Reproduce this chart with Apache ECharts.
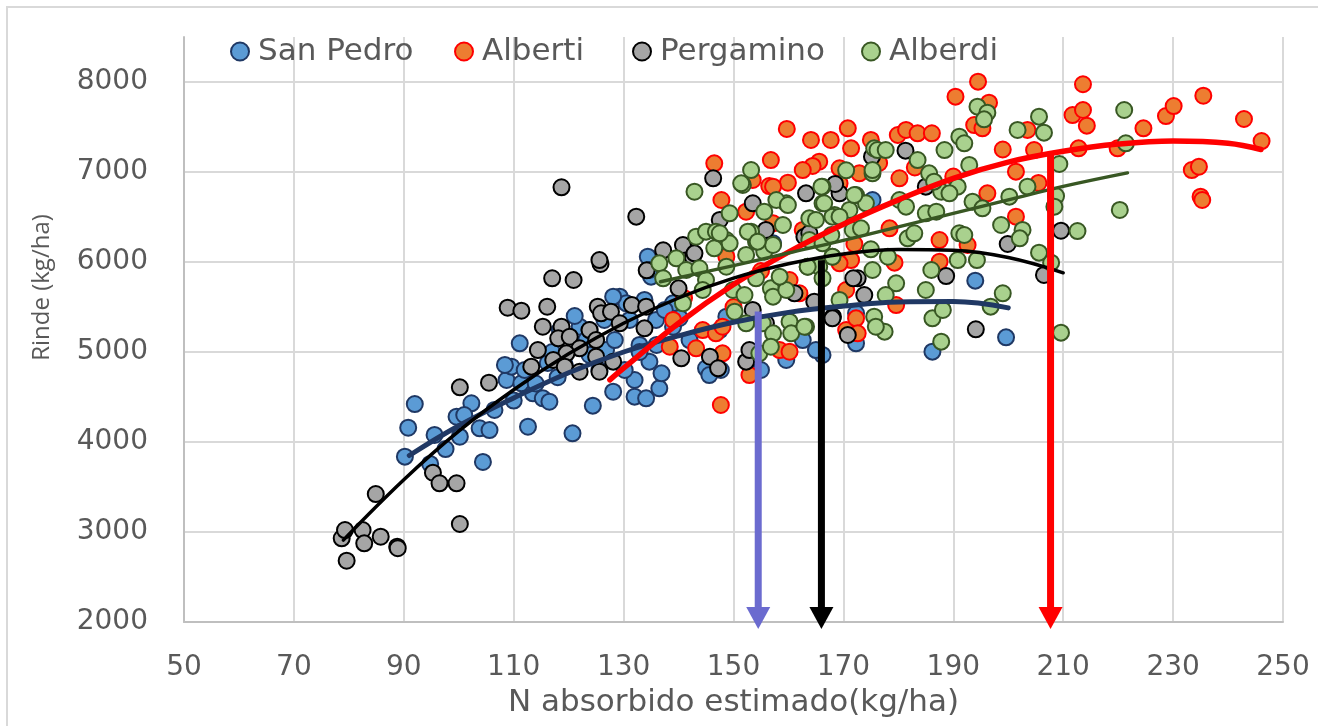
<!DOCTYPE html>
<html>
<head>
<meta charset="utf-8">
<script src="https://cdn.jsdelivr.net/npm/echarts@6/dist/echarts.min.js"></script>
<style>
html, body { margin: 0; padding: 0; background: #fff; }
#chart { width: 1318px; height: 726px; }
</style>
</head>
<body>
<div id="chart"></div>
<script>
// N absorbido (kg/ha) vs rinde (kg/ha), one array per site
var sanPedro = [
  [90.2,3837],[90.8,4159],[92,4422],[94.8,3756],[95.6,4078],[97.6,3922],[99.6,4281],[100.2,4059],
  [102.3,4430],[103.8,4152],[104.4,3778],[105.6,4133],[106.5,4356],[108.7,4689],[109.6,4837],[111.1,5096],
  [111.4,4652],[112.6,4170],[113.5,4541],[115.3,4485],[116.5,4448],[120.7,4096],[124.4,4404],[128.1,4559],
  [132,4689],[132,4504],[134.1,4485],[136.5,4596],[136.9,4763],[134.7,4893],[134.4,6059],[135,5837],
  [129.3,5615],[130.5,5541],[128.1,5615],[135.9,5356],[139,5541],[139,5281],[122,5281],[123.2,5133],
  [132.9,5078],[126.8,5022],[145,4819],[145.6,4744],[147.7,4800],[152.9,4856],[155,4800],[159.6,4911],
  [166.2,4967],[147.5,5244],[148.7,5393],[157.2,6207],[172.3,5430],[194,5793],[199.6,5163],[186.2,5004],
  [165,5022],[172.3,5096],[162.6,5133],[175.3,6689],[118.4,5244],[121.1,5400],[123.8,5244],[126.5,5356],
  [128.4,5133],[131.1,5356],[133.8,5578],[136,5078],[125.6,4800],[130.2,4800],[132.9,5000],[123.8,4967],
  [119.3,4856],[116.2,4878],[112,4800],[108.4,4856],[134.7,5911],[137.5,5467],[140.2,5378],[142,5133],
  [117,5000],[114,4650],[118,4720],[101,4300],[110,4460]
];
var alberti = [
  [159.7,7478],[164.1,7356],[167.7,7356],[170.8,7485],[171.4,7263],[175,7356],[156.8,7133],[165.6,7115],
  [164.4,7067],[162.6,7022],[146.5,7096],[147.8,6689],[156.5,6844],[159.9,6881],[153.5,6911],[152.3,6559],
  [148.7,6059],[139,5356],[138.4,5059],[144.4,5244],[143.2,5041],[146.8,5207],[148,5281],[148,4985],
  [152.9,4744],[147.7,4411],[157.2,6430],[160.2,5800],[162,5652],[157.2,6837],[158.4,5022],[160.2,5003],
  [170.5,5244],[171.4,6022],[169.3,6874],[169.3,7041],[172.9,6985],[179.9,7411],[181.4,7467],[183.5,7430],
  [186.1,7430],[190.4,7837],[194.5,8004],[196.5,7770],[193.8,7522],[195.3,7485],[201.4,7004],[203.5,7467],
  [204.7,7244],[211.7,7633],[213.6,7975],[213.6,7689],[214.3,7515],[212.8,7263],[219.9,7263],[224.6,7485],
  [228.7,7622],[230.1,7733],[235.5,7848],[242.9,7589],[246.1,7344],[233.4,7022],[234.7,7059],[235,6726],
  [235.3,6689],[196.2,6763],[187.5,6244],[192.6,6189],[178.4,6374],[180.2,6930],[179.3,5993],[187.5,6004],
  [172.3,5374],[172.6,5207],[179.6,5522],[170.5,5689],[169.3,5985],[162.6,6356],[201.4,6504],[205.5,6878],
  [172,6200],[176.5,7100],[183,7050],[190,6950],[199,7250],[141,5600],[150,5500],[155,5900]
];
var pergamino = [
  [78.7,2930],[79.3,3022],[79.6,2681],[82.5,3022],[82.8,2874],[85.8,2948],[84.9,3422],[88.8,2837],
  [88.9,2820],[95.3,3659],[96.5,3541],[99.6,3541],[100.2,3089],[100.2,4607],[105.5,4659],[118.7,6830],
  [132.3,6504],[125.8,5978],[117,5819],[120.9,5800],[108.9,5492],[111.4,5459],[116.1,5503],[125.3,5503],
  [125.9,5430],[127.7,5448],[131.5,5522],[134.1,5503],[115.3,5281],[118.7,5281],[123.8,5244],[129.3,5319],
  [133.8,5263],[118.1,5152],[120.2,5170],[122,5041],[125,5133],[119.6,4985],[114.4,5022],[117.2,4911],
  [113.2,4837],[119.3,4837],[125,4948],[128.1,4893],[125.6,4781],[122,4781],[140.5,4930],[145.7,4948],
  [147.2,4819],[152.3,4893],[134.2,5907],[137.2,6130],[141.1,6148],[142.6,6056],[140,5707],[146.3,6930],
  [153.5,6652],[155.9,6356],[163.2,6763],[169.3,6763],[153.5,5467],[155.9,5319],[152.9,5022],[161.1,5652],
  [168.1,5393],[170.8,5189],[172.6,5819],[168.5,6867],[181.3,7237],[175.2,7170],[185,6837],[199.9,6200],
  [209.6,6348],[206.5,5856],[194.1,5252],[188.7,5844],[171.8,5819],[173.8,5633],[168,5374],[164.7,5559],
  [162.9,6281],[147.5,6467],[125.6,6022],[140.8,6189],[142.9,6096],[163.8,6319]
];
var alberdi = [
  [142.9,6781],[149.3,6541],[151.7,6856],[159.6,6652],[163.8,6485],[166.2,6837],[159,6411],[153.2,6337],
  [143.2,6281],[145,6337],[146.8,6337],[148.7,6244],[149.3,6207],[146.5,6152],[154.1,6226],[155.6,6115],
  [152.3,6078],[157.2,6189],[171.1,6578],[168.4,6522],[171.7,6356],[166.2,6652],[136.5,5985],[139.6,6041],
  [137.2,5819],[141.4,5911],[143.8,5930],[145,5800],[144.4,5689],[140.8,5541],[148.7,5948],[149.9,5689],
  [154.1,5819],[152,5633],[150.2,5448],[156.8,5707],[157.2,5615],[159.6,5689],[158.4,5837],[155.3,5319],
  [152.3,5319],[160.2,5337],[157.2,5207],[160.5,5207],[163.2,5281],[154.7,4985],[156.8,5059],[163.5,5948],
  [165.6,5948],[168,6059],[153.2,7022],[151.4,6874],[155.6,6559],[157.8,6689],[159.9,6633],[170.5,7019],
  [172.3,6744],[174.1,6652],[175.3,6985],[175.6,7263],[147.5,6319],[152.6,6337],[154.4,6226],[165,6467],
  [168,6504],[163.8,6244],[166.2,6207],[194.4,7726],[196.2,7659],[195.6,7585],[205.6,7615],[206.5,7437],
  [201.7,7467],[221.1,7689],[221.4,7319],[220.3,6578],[212.6,6344],[209.6,5215],[209.3,7089],[208.7,6733],
  [208.4,6615],[207.8,5993],[205.6,6104],[202.6,6356],[202.1,6263],[203.5,6837],[200.2,6726],[198.7,6411],
  [199,5652],[196.8,5504],[191.1,6319],[192,6300],[194.3,6022],[190.8,6022],[186,5911],[185,5689],
  [186.2,5374],[188.1,5467],[187.8,5115],[179.6,5763],[177.5,5226],[175.6,5393],[175.9,5281],[175.3,5911],
  [178.1,6059],[181.7,6263],[182.9,6319],[185,6541],[186.9,6559],[187.8,6781],[190.8,6837],[191.1,7393],
  [188.4,7244],[183.5,7133],[185.6,6985],[176.2,7244],[177.7,7244],[175.3,7022],[166,6837],[166.5,6652],
  [172,6744],[169.3,6504],[173.2,6374],[167.8,6300],[180.2,6689],[181.4,6615],[193.5,6670],[195.3,6596],
  [192.9,7078],[192,7319],[189.3,6763],[186.5,6893],[168,6059],[175,6141],[169.3,5578],[162.9,5281],
  [163.5,5948],[166.2,5819],[177.7,5633]
];

// polynomial trend lines
var sanPedroTrend = [[91,3850],[100,4180],[110,4490],[120,4770],[130,5000],[140,5180],[150,5330],
  [160,5440],[170,5510],[180,5555],[190,5560],[200,5490]];
var albertiTrend = [[127.5,4690],[130,4820],[140,5320],[150,5750],[160,6110],[170,6420],[180,6690],
  [190,6930],[200,7110],[210,7230],[220,7310],[230,7345],[240,7320],[246,7250]];
var pergaminoTrend = [[79,2910],[90,3580],[100,4120],[110,4580],[120,4980],[130,5320],[140,5600],
  [150,5820],[160,5980],[170,6090],[180,6140],[190,6130],[200,6050],[210,5880]];
var alberdiTrend = [[136.7,5780],[150,5960],[160,6100],[170,6240],[180,6390],[190,6540],[200,6690],
  [210,6840],[221.7,6990]];

// optimum N arrows: [x, top y]
var arrowSanPedro = [154.5, 5450];
var arrowPergamino = [166, 6020];
var arrowAlberti = [207.7, 7222];

var names = ['San Pedro', 'Alberti', 'Pergamino', 'Alberdi'];
var legendLeft = [230, 454, 632, 861];

var chart = echarts.init(document.getElementById('chart'));
var font = 'DejaVu Sans';

function scatter(name, data, fill, border) {
  return {
    name: name, type: 'scatter', data: data, symbolSize: 16,
    itemStyle: { color: fill, borderColor: border, borderWidth: 2, opacity: 1 },
    z: 2
  };
}
function trend(data, color, width) {
  return {
    type: 'line', data: data, showSymbol: false, symbol: 'none', smooth: 0.4,
    lineStyle: { color: color, width: width, cap: 'round' },
    silent: true, z: 5
  };
}
function arrow(p, color) {
  return {
    type: 'line', silent: true, z: 6, clip: false,
    lineStyle: { color: color, width: 7 },
    data: [
      { value: [p[0], p[1]], symbol: 'none' },
      { value: [p[0], 2000], symbol: 'triangle', symbolSize: [24, 22], symbolRotate: 180, symbolOffset: [0, -4],
        itemStyle: { color: color } }
    ]
  };
}

var legends = names.map(function (n, i) {
  return {
    data: [n], left: legendLeft[i], top: 36, padding: 0,
    itemWidth: 18, itemHeight: 18, icon: 'circle',
    textStyle: { fontFamily: font, fontSize: 31, color: '#595959', padding: [0, 0, 0, 4] }
  };
});

var option = {
  animation: false,
  backgroundColor: '#fff',
  graphic: [
    { type: 'rect', shape: { x: 7, y: 7, width: 1330, height: 740 }, style: { fill: 'none', stroke: '#d9d9d9', lineWidth: 2 }, silent: true }
  ],
  legend: legends,
  grid: { left: 184, right: 35, top: 37, bottom: 104 },
  xAxis: {
    type: 'value', min: 50, max: 250, interval: 20,
    name: 'N absorbido estimado(kg/ha)', nameLocation: 'middle', nameGap: 65,
    nameTextStyle: { fontFamily: font, fontSize: 31, color: '#595959' },
    axisLine: { lineStyle: { color: '#bfbfbf', width: 2 } },
    axisTick: { show: false },
    axisLabel: { fontFamily: font, fontSize: 28, color: '#595959', margin: 32 },
    splitLine: { show: true, lineStyle: { color: '#d9d9d9', width: 2 } }
  },
  yAxis: {
    type: 'value', min: 2000, max: 8500, interval: 1000,
    name: 'Rinde (kg/ha)', nameLocation: 'middle', nameRotate: 90, nameGap: 130,
    nameTextStyle: { fontFamily: 'Open Sans', fontSize: 24, color: '#595959', padding: [0, 0, 0, 84] },
    axisLine: { show: true, lineStyle: { color: '#bfbfbf', width: 2 } },
    axisTick: { show: false },
    axisLabel: { fontFamily: font, fontSize: 28, color: '#595959', margin: 36, showMaxLabel: false,
      formatter: function (v) { return String(v); } },
    splitLine: { show: true, showMaxLine: false, lineStyle: { color: '#d9d9d9', width: 2 } }
  },
  series: [
    scatter(names[0], sanPedro, '#5b9bd5', '#1f3864'),
    scatter(names[1], alberti, '#ed7d31', '#ff0000'),
    scatter(names[2], pergamino, '#a5a5a5', '#000000'),
    scatter(names[3], alberdi, '#a9d18e', '#385723'),
    trend(sanPedroTrend, '#203864', 5),
    trend(albertiTrend, '#ff0000', 5.5),
    trend(pergaminoTrend, '#000000', 3.5),
    trend(alberdiTrend, '#385723', 3.5),
    arrow(arrowSanPedro, '#6b6bcf'),
    arrow(arrowPergamino, '#000000'),
    arrow(arrowAlberti, '#ff0000')
  ]
};

chart.setOption(option);
</script>
</body>
</html>
